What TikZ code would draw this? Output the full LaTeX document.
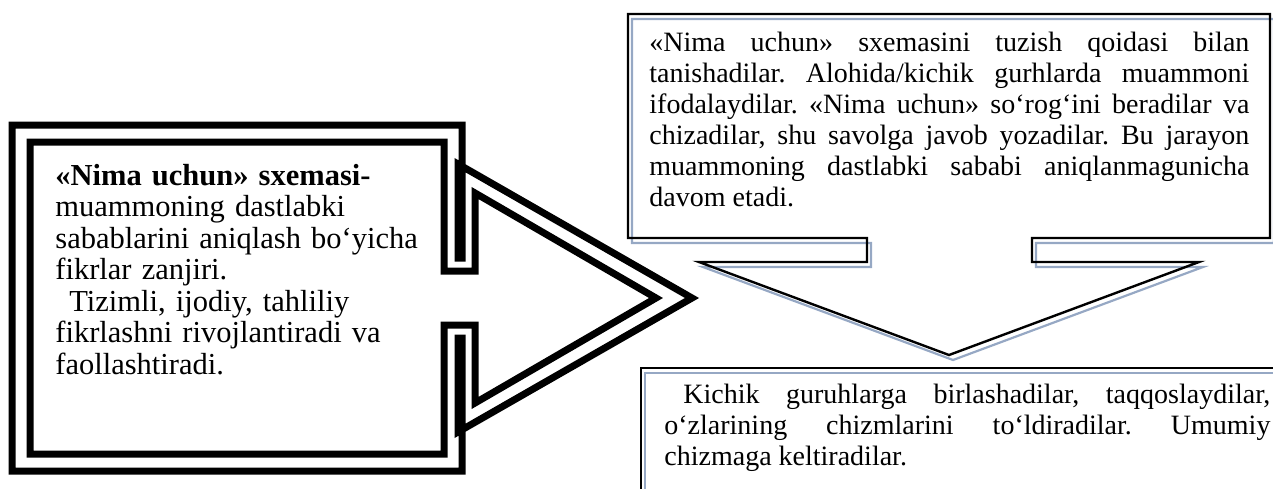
\documentclass[tikz,border=0pt]{standalone}
\usepackage{fontspec}
\setmainfont{Liberation Serif}
\definecolor{shadowblue}{RGB}{150,168,196}
\tikzset{
  thickline/.style={line width=3.5pt,line join=miter,miter limit=20},
  callout line/.style={draw=black,line width=1.2pt},
  callout shadow/.style={draw=shadowblue,line width=1.1pt,shift={(4,5)}},
  box text/.style={inner sep=0pt,anchor=base west,font=\fontsize{14}{15.5}\selectfont\frenchspacing}
}
\begin{document}
\begin{tikzpicture}[yscale=-1,x=0.5pt,y=0.5pt]
\useasboundingbox (0,0) rectangle (1273,488);
% left callout, two lines
\draw[thickline] (12,125) -- (462,125) -- (462,258) -- (458,258) -- (458,164) -- (692,298) -- (458,432) -- (458,338) -- (462,338) -- (462,471) -- (12,471) -- cycle;
\draw[thickline] (30,142) -- (444,142) -- (444,271) -- (475,271) -- (475,193) -- (656,298) -- (475,403) -- (475,325) -- (444,325) -- (444,454) -- (30,454) -- cycle;
% top callout
\draw[callout shadow] (628,14) -- (1270,14) -- (1270,238) -- (1032,238) -- (1032,262) -- (1199,262) -- (949,355) -- (699,262) -- (867,262) -- (867,238) -- (628,238) -- cycle;
\draw[callout line] (628,14) -- (1270,14) -- (1270,238) -- (1032,238) -- (1032,262) -- (1199,262) -- (949,355) -- (699,262) -- (867,262) -- (867,238) -- (628,238) -- cycle;
% bottom box
\draw[callout shadow] (641,368) rectangle (1300,520);
\draw[callout line] (641,368) rectangle (1300,520);
\node[box text,text width=200pt,align=left,font=\fontsize{15.25}{15.75}\selectfont] (Nleft) at (55,185) {\textbf{«Nima uchun» sxemasi-}\\
muammoning dastlabki\\
sabablarini aniqlash bo‘yicha\\
fikrlar zanjiri.\\
\hspace*{7pt}Tizimli, ijodiy, tahliliy\\
fikrlashni rivojlantiradi va\\
faollashtiradi.};
\node[box text,text width=300pt,align=justify] (Ntop) at (649,51) {«Nima uchun» sxemasini tuzish qoidasi bilan\linebreak
tanishadilar. Alohida/kichik gurhlarda muammoni\linebreak
ifodalaydilar. «Nima uchun» so‘rog‘ini beradilar va\linebreak
chizadilar, shu savolga javob yozadilar. Bu jarayon\linebreak
muammoning dastlabki sababi aniqlanmagunicha\linebreak
davom etadi.};
\node[box text,text width=303pt,align=justify] (Nbottom) at (664,403) {\hspace*{9.5pt}Kichik guruhlarga birlashadilar, taqqoslaydilar,\linebreak
o‘zlarining chizmlarini to‘ldiradilar. Umumiy\linebreak
chizmaga keltiradilar.};
\end{tikzpicture}
\end{document}
